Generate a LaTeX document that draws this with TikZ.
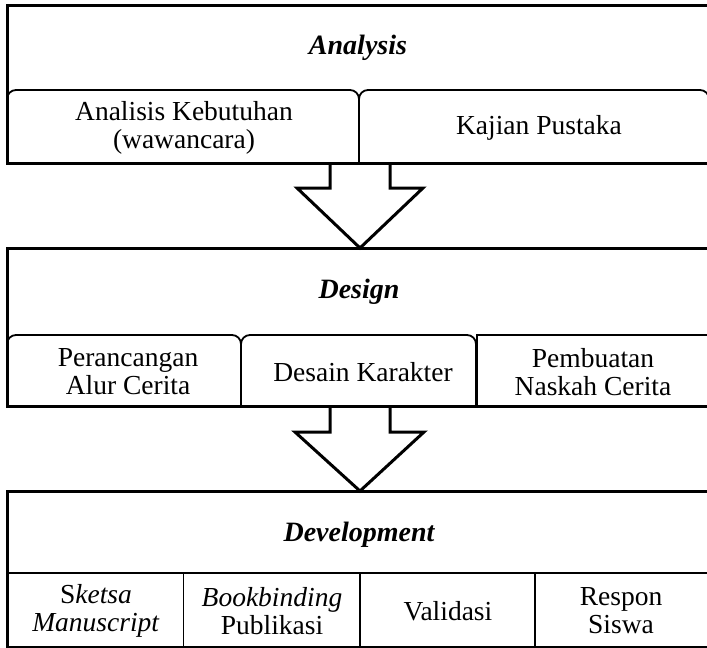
\documentclass[tikz,border=0pt]{standalone}
\usepackage{fontspec}
\setmainfont{Liberation Serif}
\begin{document}
\begin{tikzpicture}[x=1pt,y=-1pt,
  outer/.style={line width=3pt},
  inner/.style={line width=1.8pt, rounded corners=9pt},
  cell/.style={line width=1.8pt},
  lbl/.style={font=\fontsize{27.5}{28}\selectfont, align=center},
  ttl/.style={font=\fontsize{28}{28}\selectfont\bfseries\itshape},
  blockarrow/.style={line width=3pt, fill=white, line join=miter}]
\useasboundingbox (0,0) rectangle (707,648);
\clip (0,0) rectangle (707,648);

% block arrows (drawn first)
\coordinate (a1) at (360,163);
\coordinate (a2) at (360,406);
\draw[blockarrow] (a1) ++(-30,0) -- ++(0,25) -- ++(-33,0) -- ++(63,60) -- ++(63,-60) -- ++(-33,0) -- ++(0,-25);
\draw[blockarrow] (a2) ++(-30,0) -- ++(0,26) -- ++(-35,0) -- ++(65,59) -- ++(64,-59) -- ++(-34,0) -- ++(0,-26);

% Analysis
\draw[inner] (7,163) -- (7,90) -- (359,90) -- (359,163);
\draw[inner] (359,163) -- (359,90) -- (709,90) -- (709,163);
\draw[outer] (7,5) rectangle (720,163);
\node[ttl] (an) at (358,48) {Analysis};
\node[lbl] (ak) at (184,128) {Analisis Kebutuhan\\(wawancara)};
\node[lbl] (kp) at (539,128) {Kajian Pustaka};

% Design
\draw[inner] (7,406) -- (7,335) -- (241,335) -- (241,406);
\draw[inner] (241,406) -- (241,335) -- (476,335) -- (476,406);
\draw[cell] (477,406) -- (477,335) -- (720,335);
\draw[outer] (7,248) rectangle (720,406);
\node[ttl] (de) at (359,292) {Design};
\node[lbl] (pa) at (128,372) {Perancangan\\Alur Cerita};
\node[lbl] (dk) at (363,372) {Desain Karakter};
\node[lbl] (pn) at (593,372) {Pembuatan\\Naskah Cerita};

% Development
\draw[cell] (7,573) -- (720,573);
\draw[cell] (183.5,573) -- (183.5,647);
\draw[cell] (360,573) -- (360,647);
\draw[cell] (535,573) -- (535,647);
\draw[outer] (7,491) rectangle (720,647);
\node[ttl] (dv) at (359,535) {Development};
\node[lbl] (sk) at (96,611) {S\textit{ketsa}\\\textit{Manuscript}};
\node[lbl] (bb) at (272,611) {\textit{Bookbinding}\\Publikasi};
\node[lbl] (va) at (448,611) {Validasi};
\node[lbl] (rs) at (621,611) {Respon\\Siswa};
\end{tikzpicture}
\end{document}
